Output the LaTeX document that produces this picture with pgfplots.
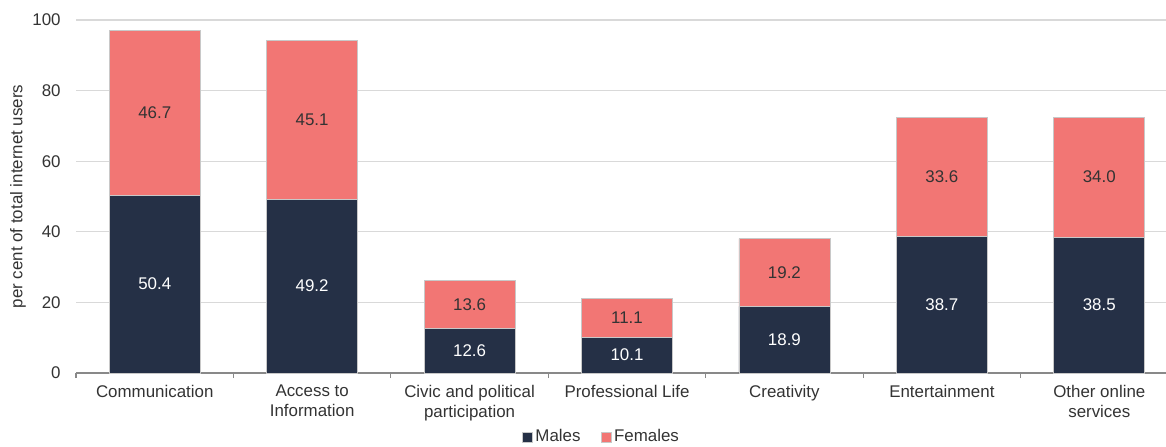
\documentclass[border=0pt]{standalone}
\usepackage{pgfplots}
\pgfplotsset{compat=1.18}
\usepackage{pgfplotstable}
\usepackage{fontspec}
\setmainfont{Liberation Sans}

\definecolor{males}{RGB}{37,48,70}
\definecolor{females}{RGB}{242,118,116}
\definecolor{txt}{RGB}{51,51,51}
\definecolor{gridgray}{RGB}{217,217,217}
\definecolor{axisgray}{RGB}{137,137,137}
\definecolor{edge}{RGB}{200,200,200}

% share of total internet users (per cent) by activity and gender
\pgfplotstableread{
x m f
0 50.4 46.7
1 49.2 45.1
2 12.6 13.6
3 10.1 11.1
4 18.9 19.2
5 38.7 33.6
6 38.5 34.0
}\usage

\begin{document}
\begin{tikzpicture}[font=\fontsize{8.45}{10}\selectfont]
\useasboundingbox (0,0) rectangle (583pt,223pt);
\begin{axis}[
  at={(38pt,36.5pt)}, anchor=south west,
  scale only axis, width=551pt, height=176.5pt,
  ybar stacked, bar width=45.5pt,
  xmin=-0.5, xmax=6.5, ymin=0, ymax=100,
  axis x line*=bottom, axis y line*=left,
  x axis line style={axisgray, line width=1pt},
  y axis line style={draw=none},
  ytick={0,20,...,100},
  xtick={0,...,6},
  minor xtick={-0.5,0.5,...,6.5},
  major tick length=0pt, minor tick length=2.5pt,
  tick align=outside,
  minor tick style={axisgray, line width=0.6pt},
  ymajorgrids, grid style={gridgray, line width=0.6pt},
  xticklabels={Communication, Access to\\Information, Civic and political\\participation, Professional Life, Creativity, Entertainment, Other online\\services},
  xticklabel style={align=center, inner sep=0pt, anchor=north, yshift=-5.75pt, text=txt, font=\fontsize{8.45}{10}\selectfont},
  yticklabel style={inner sep=0pt, anchor=east, xshift=-7.5pt, text=txt},
  /pgf/number format/assume math mode=true,
  ylabel={per cent of total internet users},
  every axis y label/.style={at={(axis description cs:0,0.5)}, rotate=90, anchor=center, yshift=29pt, text=txt},
  legend style={at={(0.4772,-0.1813)}, anchor=center, draw=none, fill=none,
    legend columns=2, nodes={inner sep=1.5pt, text=txt},
    /tikz/every even column/.append style={column sep=8.5pt}},
  legend image code/.code={\fill[#1] (0pt,-2.5pt) rectangle (5pt,2.5pt);},
  nodes near coords={\pgfmathprintnumber[fixed,fixed zerofill,precision=1]{\pgfplotspointmeta}},
  point meta=explicit,
]
\addplot[fill=males, draw=edge, line width=0.3pt,
  every node near coord/.append style={text=white, anchor=center}]
  table[x=x, y=m, meta=m] {\usage};
\addlegendentry{Males}
\addplot[fill=females, draw=edge, line width=0.3pt,
  every node near coord/.append style={text=txt, anchor=center}]
  table[x=x, y=f, meta=f] {\usage};
\addlegendentry{Females}
\end{axis}
\end{tikzpicture}
\end{document}
